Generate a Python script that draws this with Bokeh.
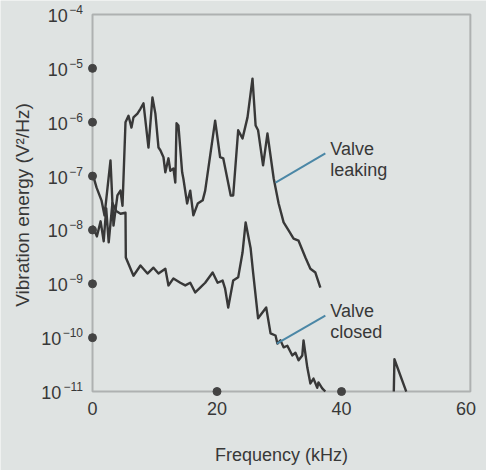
import math
from bokeh.plotting import figure
from bokeh.models import Range1d, BoxAnnotation, ColumnDataSource
from bokeh.core.properties import value
from bokeh.embed import file_html
from bokeh.resources import INLINE

# ---- data (log10 of vibration energy, V^2/Hz) ----
leak_khz = [0, 0.64, 1.44, 1.93, 2.89, 3.37, 4.0, 4.49, 4.82, 5.30, 5.78, 6.26, 6.58, 7.22, 7.70,
            8.19, 8.99, 9.63, 10.1, 10.6, 10.9, 11.4, 11.7, 12.2, 12.5, 13.0, 13.3, 13.5, 13.8, 14.4,
            14.6, 15.2, 15.7, 16.2, 16.9, 17.7, 18.1, 19.7, 20.5, 21.0, 22.2, 22.6, 23.4, 24.1, 24.9,
            25.7, 26.2, 26.6, 27.4, 28.1, 29.1, 29.9, 30.7, 31.5, 32.3, 33.1, 34.2, 35.0, 35.8, 36.6]
leak_log = [-6.95, -7.21, -7.45, -7.73, -6.71, -7.92, -7.36, -7.27, -7.55, -6.0, -5.88, -6.10, -5.91, -5.84, -5.75,
            -5.65, -6.47, -5.54, -5.84, -6.47, -6.52, -6.65, -6.93, -6.67, -6.90, -6.86, -7.12, -6.02, -6.06, -6.93,
            -7.05, -7.51, -7.27, -7.73, -7.51, -7.45, -7.27, -5.97, -6.65, -6.67, -7.36, -7.36, -6.15, -6.30, -5.91,
            -5.19, -6.06, -6.15, -6.80, -6.21, -7.04, -7.51, -7.86, -8.01, -8.16, -8.20, -8.51, -8.72, -8.79, -9.07]

closed_khz = [0, 0.7, 1.3, 1.8, 2.2, 2.6, 3.2, 3.8, 4.5, 5.3, 5.35, 6.58, 7.70, 8.83, 9.79,
              10.6, 11.7, 12.2, 13.0, 14.1, 14.9, 15.7, 16.5, 17.3, 18.1, 19.3, 20.1, 20.9, 21.3, 21.8,
              22.6, 23.4, 24.1, 24.6, 25.4, 25.8, 26.6, 27.9, 28.6, 29.4, 29.7, 30.2, 30.7, 31.3, 32.1,
              32.6, 33.1, 33.7, 33.9, 34.5, 35.0, 35.5, 36.1, 36.3, 36.9, 37.4]
closed_log = [-7.92, -8.12, -7.84, -8.21, -7.6, -8.23, -7.5, -7.65, -7.7, -7.68, -8.51, -8.85, -8.66, -8.81, -8.70,
              -8.81, -8.72, -9.03, -8.90, -8.98, -9.03, -8.98, -9.16, -9.07, -8.98, -8.79, -8.98, -8.94, -9.09, -9.44,
              -8.94, -8.88, -8.42, -7.86, -8.34, -8.79, -9.64, -9.44, -9.92, -9.96, -10.11, -10.05, -10.18, -10.15, -10.33,
              -10.28, -10.42, -10.33, -10.05, -10.55, -10.85, -10.76, -10.93, -10.83, -10.94, -11.0]

blip_khz = [48.4, 48.5, 50.4]
blip_log = [-11.0, -10.4, -11.0]

x_ticks = [0, 20, 40, 60]
y_tick_exps = [-4, -5, -6, -7, -8, -9, -10, -11]
x_dot_ticks = [20, 40]
y_dot_exps = [-5, -6, -7, -8, -9, -10]

x_label = "Frequency (kHz)"
y_label = "Vibration energy (V²/Hz)"


def to_val(logs):
    return [10 ** v for v in logs]


BG = "#dfe3e2"
INK = "#383838"
FONT = "Liberation Sans"
X0, X1 = 0, 60.7          # plotted box (kHz)
E_TOP, E_BOT = -4, -11    # plotted box (decades)
LIFT = -7                 # alphabetic-baseline correction (px)

# whole canvas is the frame; tick labels are drawn through the same scales
p = figure(width=486, height=470, output_backend="svg", toolbar_location=None,
           y_axis_type="log", x_axis_location=None, y_axis_location=None,
           x_range=Range1d(-14.78, 63.29), y_range=Range1d(10 ** -12.466, 10 ** -3.74),
           min_border=0)
p.background_fill_color = BG
p.border_fill_color = BG
p.outline_line_color = None
p.grid.visible = False

# frame box
p.add_layout(BoxAnnotation(left=X0, right=X1, bottom=10 ** E_BOT, top=10 ** E_TOP,
                           fill_alpha=0, line_color="#404040", line_width=2))

# curves
for xs, ls in ((leak_khz, leak_log), (closed_khz, closed_log), (blip_khz, blip_log)):
    p.line(xs, to_val(ls), line_color=INK, line_width=2.4, line_join="round")

# tick dots
p.scatter([X0] * len(y_dot_exps), to_val(y_dot_exps), size=8, color="#444444")
p.scatter(x_dot_ticks, [10 ** E_BOT] * len(x_dot_ticks), size=8, color="#444444")

# annotations
p.line([29.4, 37.4], [10 ** -7.12, 10 ** -6.58], line_color="#4b87a6", line_width=2)
p.line([29.6, 37.4], [10 ** -10.11, 10 ** -9.59], line_color="#4b87a6", line_width=2)
p.text([38.2, 38.2], [10 ** -6.62, 10 ** -7.01], text=["Valve", "leaking"], y_offset=LIFT,
       text_font=value(FONT), text_font_size="18px", text_color=INK, text_baseline="alphabetic")
p.text([38.2, 38.2], [10 ** -9.63, 10 ** -10.02], text=["Valve", "closed"], y_offset=LIFT,
       text_font=value(FONT), text_font_size="18px", text_color=INK, text_baseline="alphabetic")

# y tick labels: "10" with a small raised exponent
exp_txt = ["\u2212" + str(abs(e)) for e in y_tick_exps]
exp_w = [12 * (0.584 + 0.556 * (len(t) - 1)) for t in exp_txt]
ysrc = ColumnDataSource(dict(
    x=[X0] * len(y_tick_exps), y=to_val(y_tick_exps),
    base=["10"] * len(y_tick_exps), exp=exp_txt,
    base_off=[-9.5 - w - 1.5 for w in exp_w],
))
p.text("x", "y", text="exp", source=ysrc, x_offset=-9.5, y_offset=-5,
       text_align="right", text_baseline="alphabetic", text_font=value(FONT),
       text_font_size="12px", text_color=INK)
p.text("x", "y", text="base", source=ysrc, x_offset="base_off", y_offset=1,
       text_align="right", text_baseline="middle", text_font=value(FONT),
       text_font_size="18px", text_color=INK)

# x tick labels
p.text(x_ticks, [10 ** E_BOT] * len(x_ticks), text=[str(t) for t in x_ticks], y_offset=24 + LIFT,
       text_align="center", text_baseline="alphabetic", text_font=value(FONT),
       text_font_size="18px", text_color=INK)

# axis titles
p.text([(X0 + X1) / 2], [10 ** E_BOT], text=[x_label], y_offset=70 + LIFT,
       text_align="center", text_baseline="alphabetic", text_font=value(FONT),
       text_font_size="18px", text_color=INK)
p.text([X0], [10 ** ((E_TOP + E_BOT) / 2)], text=[y_label], x_offset=-70, y_offset=2,
       angle=math.pi / 2, text_align="center", text_baseline="middle", text_font=value(FONT),
       text_font_size="19px", text_color=INK)

open("out.html", "w").write(file_html(p, INLINE))
